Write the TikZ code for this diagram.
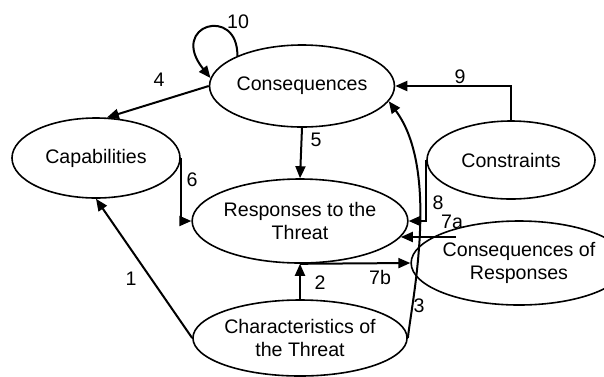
\documentclass[tikz,border=0pt]{standalone}
\usepackage{fontspec}
\setmainfont{Liberation Sans}
\usetikzlibrary{arrows.meta,shapes.geometric}

\begin{document}
\begin{tikzpicture}[x=0.5pt,y=-0.5pt,line width=1pt,
                    -{Triangle[length=6pt,width=5pt]},
                    font=\fontsize{9.8}{11.5}\selectfont]
	  \tikzset{factor/.style={ellipse,draw,line width=0.8pt,inner sep=0pt,align=center},
	           num/.style={inner sep=0pt}}
	  \useasboundingbox (0,0) rectangle (604,376);

	  \node[factor,minimum width=85pt,minimum height=41pt] (cons) at (302,86)  {Consequences};
	  \node[factor,minimum width=84pt,minimum height=40pt] (cap)  at (96,158)  {Capabilities};
	  \node[factor,minimum width=84pt,minimum height=39pt] (con)  at (511,160) {Constraints};
	  \node[factor,minimum width=88pt,minimum height=42pt] (resp) at (300,221) {Responses to the\\Threat};
	  \node[factor,minimum width=84pt,minimum height=42pt] (cor)  at (519,263) {Consequences of\\Responses};
	  \node[factor,minimum width=84pt,minimum height=38pt] (chr)  at (300,338) {Characteristics of\\the Threat};

	  % edges
	  \draw (chr.west) -- (cap.south);
	  \draw (chr.north) -- (resp.south);
	  \draw (chr.east) .. controls (412,300) and (440,170) .. (cons.-10);
	  \draw (cons.west) -- (cap.75);
	  \draw (cons.south) -- (resp.north);
	  \draw (cap.east) |- (resp.west);
	  \draw (resp.-9 -| cor.151) -- (resp.-9);
	  \draw (resp.south) -- (cor.west);
	  \draw (con.west) |- (resp.east);
	  \draw (con.north) |- (cons.east);
	  \draw (cons.155) .. controls (238,5) and (168,25) .. (cons.175);

	  % numbers
	  \node[num] (n1)  at (131,279) {1};
	  \node[num] (n2)  at (320,283) {2};
	  \node[num] (n3)  at (419,306) {3};
	  \node[num] (n4)  at (159,80)  {4};
	  \node[num] (n5)  at (316,140) {5};
	  \node[num] (n6)  at (192,180) {6};
	  \node[num] (n7a) at (452,222) {7a};
	  \node[num] (n7b) at (380,277) {7b};
	  \node[num] (n8)  at (438,203) {8};
	  \node[num] (n9)  at (460,77)  {9};
	  \node[num] (n10) at (238,22)  {10};
\end{tikzpicture}
\end{document}
